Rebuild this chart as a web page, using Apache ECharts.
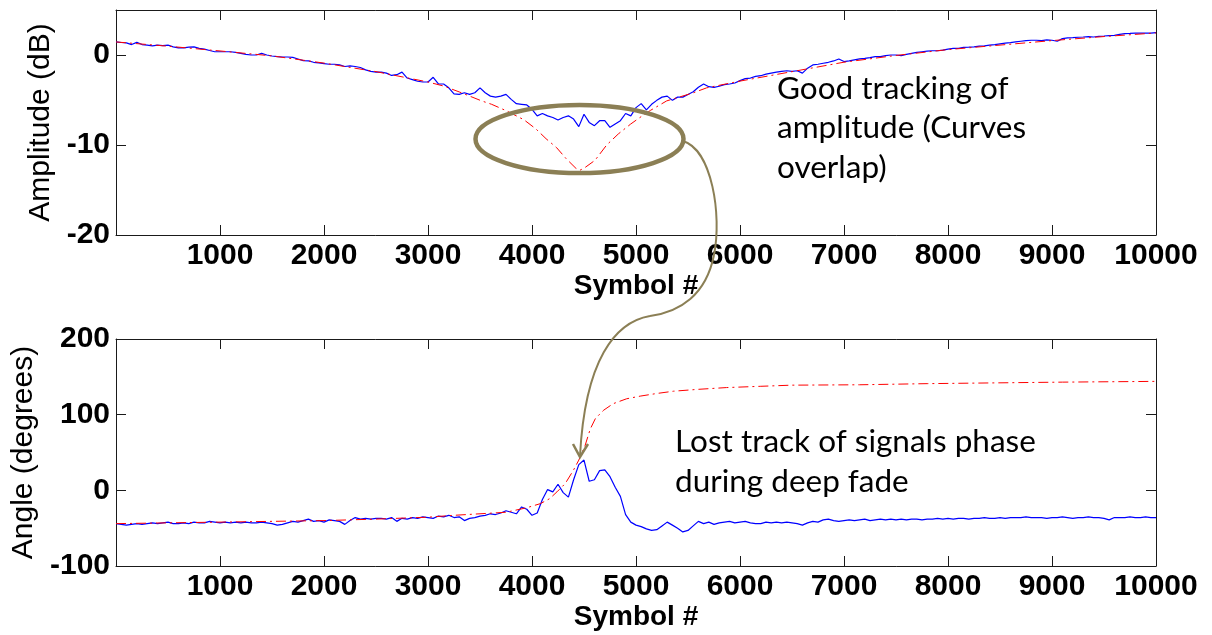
<!DOCTYPE html>
<html>
<head>
<meta charset="utf-8">
<title>Amplitude and angle tracking</title>
<script src="https://cdn.jsdelivr.net/npm/echarts@6.0.0/dist/echarts.min.js"></script>
<style>
    html, body { margin: 0; padding: 0; background: #fff; }
    #main { width: 1212px; height: 635px; }
</style>
</head>
<body>
<div id="main"></div>
<script>
// blue traces are sampled every STEP symbols, starting at symbol 0
var STEP = 50;

var ampMeasured = [
    1.46, 1.39, 1.35, 1.16, 1.4, 1.16, 1.09, 1.02, 1.09, 1.05,
    1.09, 0.91, 0.8, 0.8, 0.87, 0.91, 0.73, 0.65, 0.5, 0.36,
    0.36, 0.36, 0.36, 0.29, 0.18, 0.07, 0, 0, 0.18, 0,
    -0.11, -0.18, -0.22, -0.22, -0.26, -0.44, -0.62, -0.66, -0.81, -0.88,
    -0.95, -1.03, -1.03, -1.1, -1.28, -1.21, -1.28, -1.39, -1.65, -1.82,
    -1.9, -1.9, -2.01, -2.27, -2.19, -1.9, -2.56, -2.74, -2.92, -3.0,
    -3.0, -2.48, -3.22, -3.22, -3.65, -4.31, -4.38, -4.2, -4.38, -4.2,
    -3.65, -4.2, -4.57, -4.68, -4.57, -4.38, -4.93, -5.41, -5.48, -5.55,
    -6.03, -6.76, -6.5, -6.76, -6.94, -7.23, -6.94, -6.76, -7.12, -7.96,
    -6.58, -7.49, -7.85, -7.3, -7.3, -8.04, -7.67, -7.3, -6.5, -6.76,
    -5.85, -5.4, -6.1, -5.48, -5.04, -4.68, -4.57, -5.04, -4.68, -4.68,
    -4.38, -4.09, -3.58, -3.22, -3.52, -3.6, -3.47, -3.29, -3.22, -3.11,
    -2.85, -2.63, -2.56, -2.37, -2.3, -2.12, -2.01, -1.9, -1.82, -1.75,
    -1.82, -1.75, -2.01, -1.46, -1.1, -1.03, -0.92, -0.81, -0.66, -0.44,
    -0.73, -0.66, -0.55, -0.44, -0.37, -0.29, -0.18, -0.18, -0.07, 0,
    0, -0.07, 0.07, 0.18, 0.29, 0.36, 0.43, 0.47, 0.47, 0.55,
    0.65, 0.73, 0.73, 0.84, 0.87, 0.91, 0.98, 1.02, 1.09, 1.16,
    1.24, 1.31, 1.38, 1.46, 1.53, 1.6, 1.64, 1.64, 1.6, 1.68,
    1.64, 1.53, 1.82, 1.9, 1.93, 1.97, 2.0, 2.04, 2.0, 2.08,
    2.11, 2.15, 2.19, 2.3, 2.37, 2.4, 2.44, 2.44, 2.44, 2.44,
    2.48
];

var angleMeasured = [
    -44, -45, -46, -45, -44, -45, -44, -43, -44, -43,
    -42, -44, -44, -43, -44, -42, -43, -43, -41, -42,
    -43, -42, -43, -42, -43, -42, -43, -43, -42, -43,
    -44, -46, -45, -43, -41, -42, -40, -38, -41, -40,
    -42, -39, -40, -41, -45, -40, -36, -38, -37, -38,
    -37, -37, -38, -36, -41, -37, -38, -36, -37, -35,
    -36, -37, -34, -35, -33, -36, -35, -40, -37, -36,
    -34, -33, -31, -32, -30, -27, -29, -31, -22, -25,
    -33, -30, -12, 1, -2, 8, -3, -9, 14, 34,
    40, 12, 14, 26, 27, 18, 4, -8, -32, -42,
    -46, -48, -51, -53, -52, -47, -42, -46, -50, -55,
    -53, -47, -41, -44, -42, -45, -43, -42, -41, -43,
    -42, -41, -43, -44, -44, -42, -43, -42, -43, -42,
    -43, -44, -46, -43, -41, -42, -39, -38, -40, -41,
    -40, -39, -40, -39, -38, -40, -39, -38, -39, -38,
    -39, -38, -39, -38, -38, -39, -38, -38, -37, -38,
    -37, -38, -37, -37, -38, -37, -37, -36, -37, -37,
    -36, -37, -36, -36, -36, -35, -36, -36, -36, -37,
    -36, -36, -35, -36, -37, -36, -36, -35, -36, -36,
    -37, -39, -36, -36, -36, -35, -36, -36, -35, -36,
    -36
];

// red (reference) traces, read at these symbols
var ampRefSymbols = [0, 500, 1000, 1500, 2000, 2500, 3000, 3150, 3300, 3516, 3612, 3756, 3923, 4038, 4135, 4237, 4327, 4423, 4462,
    4510, 4606, 4718, 4830, 4949, 5038, 5141, 5295, 5551, 5679, 6000, 6500, 7000, 7500, 8000, 8500, 9000, 9500, 10000];
var ampRef = [1.45, 0.98, 0.45, -0.1, -0.9, -1.85, -3.0, -3.45, -4.1, -5.1, -5.48, -6.21, -7.2, -8.22, -9.3, -10.3, -11.5, -12.6, -12.8,
    -12.5, -11.7, -10.0, -8.77, -7.67, -6.94, -6.14, -5.1, -4.2, -3.65, -2.9, -1.85, -0.8, -0.05, 0.6, 1.1, 1.6, 2.05, 2.45];

var angleRefSymbols = [0, 500, 1000, 1500, 2000, 2500, 3000, 3250, 3500, 3750, 3950, 4080, 4170, 4240, 4320, 4400, 4450, 4510,
    4560, 4610, 4690, 4780, 4910, 5040, 5200, 5360, 5600, 5870, 6200, 6500, 7150, 7800, 8450, 9100, 10000];
var angleRef = [-44, -43, -42, -41, -40, -38, -35.5, -33, -31, -29, -23, -17.6, -11, -2, 9, 27, 40, 59,
    81, 95, 106, 114.5, 121, 124.5, 128, 131, 133.5, 135.8, 137.5, 139, 139.5, 141, 142, 143, 144];

var xTicks = { min: 0, max: 10000, interval: 1000 };
var ampTicks = { min: -20, max: 5, interval: 10 };
var angleTicks = { min: -100, max: 200, interval: 100 };

var axisColor = '#1a1a1a';
var noteColor = '#8b7f55';

function pairs(xs, ys) {
    var out = [];
    for (var i = 0; i < ys.length; i++) {
        out.push([xs ? xs[i] : i * STEP, ys[i]]);
    }
    return out;
}

// plain numbers, no thousands separator
function plain(v) {
    return String(v);
}

function xAxisFor(grid, pos) {
    var main = pos === 'bottom';
    return {
        gridIndex: grid,
        type: 'value',
        position: pos,
        min: xTicks.min,
        max: xTicks.max,
        interval: xTicks.interval,
        name: main ? 'Symbol #' : '',
        nameLocation: 'middle',
        nameGap: 35,
        nameTextStyle: { fontFamily: 'Liberation Sans', fontSize: 28, fontWeight: 'bold', color: '#000' },
        axisLine: { show: true, onZero: false, lineStyle: { color: axisColor, width: 1 } },
        axisTick: { show: true, inside: true, length: 10, lineStyle: { color: axisColor } },
        axisLabel: {
            show: main,
            showMinLabel: false,
            margin: 6,
            formatter: plain,
            fontFamily: 'Liberation Sans',
            fontSize: 30,
            fontWeight: 'bold',
            color: '#000'
        },
        splitLine: { show: false }
    };
}

function yAxisFor(grid, pos, ticks, name, gap) {
    var main = pos === 'left';
    return {
        gridIndex: grid,
        type: 'value',
        position: pos,
        min: ticks.min,
        max: ticks.max,
        interval: ticks.interval,
        name: main ? name : '',
        nameLocation: 'middle',
        nameGap: gap,
        nameTextStyle: { fontFamily: 'Liberation Sans', fontSize: 30, color: '#000' },
        axisLine: { show: true, onZero: false, lineStyle: { color: axisColor, width: 1 } },
        axisTick: { show: true, inside: true, length: 10, lineStyle: { color: axisColor } },
        axisLabel: {
            show: main,
            showMaxLabel: ticks.max % ticks.interval === 0,
            margin: 6,
            formatter: plain,
            fontFamily: 'Liberation Sans',
            fontSize: 30,
            fontWeight: 'bold',
            color: '#000'
        },
        splitLine: { show: false }
    };
}

var chart = echarts.init(document.getElementById('main'), null, { renderer: 'canvas' });

var option = {
    animation: false,
    backgroundColor: '#fff',
    grid: [
        { left: 116, top: 10, width: 1040, height: 225, outerBoundsMode: 'none' },
        { left: 116, top: 339, width: 1040, height: 227, outerBoundsMode: 'none' }
    ],
    xAxis: [
        xAxisFor(0, 'bottom'), xAxisFor(0, 'top'),
        xAxisFor(1, 'bottom'), xAxisFor(1, 'top')
    ],
    yAxis: [
        yAxisFor(0, 'left', ampTicks, 'Amplitude (dB)', 55), yAxisFor(0, 'right', ampTicks, '', 0),
        yAxisFor(1, 'left', angleTicks, 'Angle (degrees)', 73), yAxisFor(1, 'right', angleTicks, '', 0)
    ],
    series: [
        {
            name: 'amp measured', type: 'line', xAxisIndex: 0, yAxisIndex: 0,
            data: pairs(null, ampMeasured), showSymbol: false, z: 2,
            lineStyle: { color: '#0000ff', width: 1.2 }
        },
        {
            name: 'amp reference', type: 'line', xAxisIndex: 0, yAxisIndex: 0,
            data: pairs(ampRefSymbols, ampRef), showSymbol: false, z: 3,
            lineStyle: { color: '#ff0000', width: 1, type: [10, 4, 2, 4] }
        },
        {
            name: 'angle measured', type: 'line', xAxisIndex: 2, yAxisIndex: 2,
            data: pairs(null, angleMeasured), showSymbol: false, z: 2,
            lineStyle: { color: '#0000ff', width: 1.2 }
        },
        {
            name: 'angle reference', type: 'line', xAxisIndex: 2, yAxisIndex: 2,
            data: pairs(angleRefSymbols, angleRef), showSymbol: false, z: 3,
            lineStyle: { color: '#ff0000', width: 1, type: [10, 4, 2, 4] }
        }
    ],
    graphic: [
        {
            type: 'ellipse', z: 100,
            shape: { cx: 579.5, cy: 139, rx: 104, ry: 34 },
            style: { fill: null, stroke: noteColor, lineWidth: 4.5 }
        },
        {
            type: 'bezierCurve', z: 100,
            shape: { x1: 683, y1: 141, cpx1: 712, cpy1: 150, cpx2: 722, cpy2: 215, x2: 714, y2: 255 },
            style: { fill: null, stroke: noteColor, lineWidth: 2 }
        },
        {
            type: 'bezierCurve', z: 100,
            shape: { x1: 714, y1: 255, cpx1: 706, cpy1: 295, cpx2: 680, cpy2: 312, x2: 650, y2: 316 },
            style: { fill: null, stroke: noteColor, lineWidth: 2 }
        },
        {
            type: 'bezierCurve', z: 100,
            shape: { x1: 650, y1: 316, cpx1: 615, cpy1: 322, cpx2: 585, cpy2: 360, x2: 580, y2: 456 },
            style: { fill: null, stroke: noteColor, lineWidth: 2 }
        },
        {
            type: 'polyline', z: 100,
            shape: { points: [[573, 444], [580, 457], [588, 444]] },
            style: { fill: null, stroke: noteColor, lineWidth: 2.5 }
        },
        {
            type: 'text', z: 100, left: 777, top: 69,
            style: {
                text: 'Good tracking of\namplitude (Curves\noverlap)',
                font: '31.5px Lato',
                lineHeight: 39.5,
                fill: '#000'
            }
        },
        {
            type: 'text', z: 100, left: 675, top: 422,
            style: {
                text: 'Lost track of signals phase\nduring deep fade',
                font: '31.5px Lato',
                lineHeight: 40,
                fill: '#000'
            }
        }
    ]
};

chart.setOption(option);
</script>
</body>
</html>
